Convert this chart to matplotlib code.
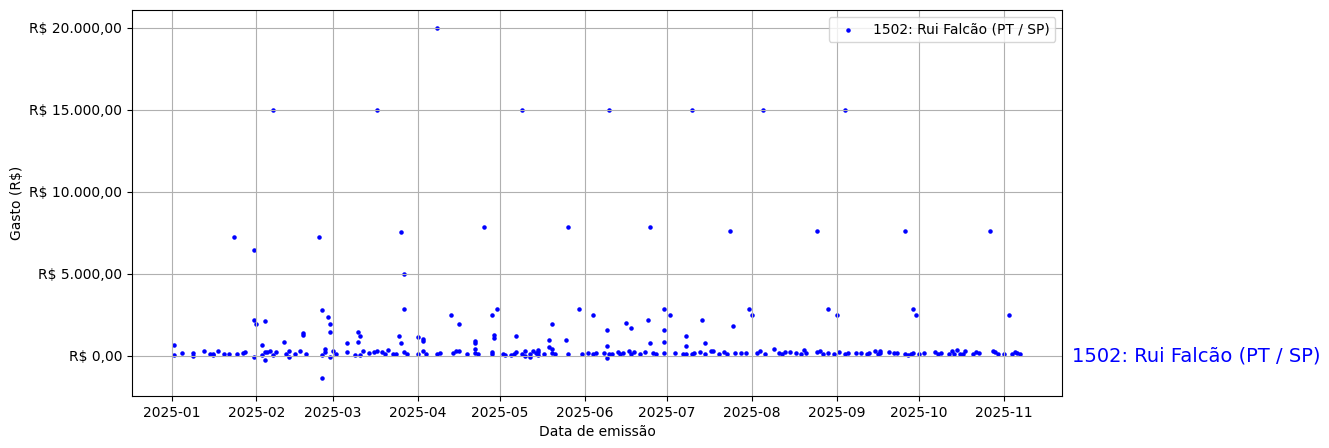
import pandas as pd
import matplotlib
matplotlib.use("Agg")
import matplotlib.pyplot as plt
import matplotlib.dates as mdates
from matplotlib.ticker import FuncFormatter

deputado = "1502: Rui Falcão (PT / SP)"

datas = [
    "2025-01-02", "2025-01-02", "2025-01-05", "2025-01-09", "2025-01-09", "2025-01-13",
    "2025-01-15", "2025-01-16", "2025-01-16", "2025-01-18", "2025-01-20", "2025-01-22",
    "2025-01-24", "2025-01-25", "2025-01-27", "2025-01-28", "2025-01-31", "2025-01-31",
    "2025-02-01", "2025-01-31",
    "2025-02-03", "2025-02-03", "2025-02-04", "2025-02-04", "2025-02-04", "2025-02-05",
    "2025-02-07", "2025-02-06", "2025-02-07", "2025-02-08", "2025-02-11", "2025-02-12",
    "2025-02-13", "2025-02-13", "2025-02-15", "2025-02-17", "2025-02-18", "2025-02-18",
    "2025-02-19", "2025-02-24", "2025-02-25", "2025-02-25", "2025-02-25", "2025-02-26",
    "2025-02-26", "2025-02-27", "2025-02-28", "2025-02-28", "2025-02-28",
    "2025-03-01", "2025-03-02", "2025-03-06", "2025-03-06", "2025-03-09", "2025-03-10",
    "2025-03-10", "2025-03-11", "2025-03-11", "2025-03-12", "2025-03-14", "2025-03-17",
    "2025-03-16", "2025-03-17", "2025-03-19", "2025-03-20", "2025-03-21", "2025-03-23",
    "2025-03-24", "2025-03-25", "2025-03-26", "2025-03-26", "2025-03-27", "2025-03-27",
    "2025-03-27", "2025-03-28",
    "2025-04-01", "2025-04-01", "2025-04-03", "2025-04-03", "2025-04-03", "2025-04-04",
    "2025-04-08", "2025-04-08", "2025-04-09", "2025-04-13", "2025-04-14", "2025-04-15",
    "2025-04-16", "2025-04-16", "2025-04-19", "2025-04-22", "2025-04-22", "2025-04-22",
    "2025-04-22", "2025-04-23", "2025-04-25", "2025-04-28", "2025-04-28", "2025-04-28",
    "2025-04-29", "2025-04-29", "2025-04-30",
    "2025-05-02", "2025-05-03", "2025-05-05", "2025-05-06", "2025-05-07", "2025-05-07",
    "2025-05-09", "2025-05-09", "2025-05-10", "2025-05-10", "2025-05-12", "2025-05-12",
    "2025-05-13", "2025-05-14", "2025-05-15", "2025-05-15", "2025-05-15", "2025-05-17",
    "2025-05-19", "2025-05-19", "2025-05-20", "2025-05-20", "2025-05-20", "2025-05-21",
    "2025-05-25", "2025-05-26", "2025-05-26", "2025-05-30", "2025-05-31",
    "2025-06-02", "2025-06-04", "2025-06-04", "2025-06-05", "2025-06-08", "2025-06-09",
    "2025-06-09", "2025-06-09", "2025-06-10", "2025-06-10", "2025-06-11", "2025-06-13",
    "2025-06-14", "2025-06-15", "2025-06-16", "2025-06-17", "2025-06-18", "2025-06-18",
    "2025-06-19", "2025-06-21", "2025-06-23", "2025-06-24", "2025-06-25", "2025-06-25",
    "2025-06-26", "2025-06-27", "2025-06-30", "2025-06-30", "2025-06-30", "2025-06-30",
    "2025-07-02", "2025-07-04", "2025-07-07", "2025-07-08", "2025-07-08", "2025-07-08",
    "2025-07-10", "2025-07-10", "2025-07-11", "2025-07-13", "2025-07-14", "2025-07-15",
    "2025-07-15", "2025-07-17", "2025-07-18", "2025-07-20", "2025-07-22", "2025-07-23",
    "2025-07-24", "2025-07-25", "2025-07-26", "2025-07-28", "2025-07-30", "2025-07-31",
    "2025-08-01", "2025-08-03", "2025-08-04", "2025-08-05", "2025-08-06", "2025-08-09",
    "2025-08-11", "2025-08-12", "2025-08-13", "2025-08-15", "2025-08-17", "2025-08-19",
    "2025-08-20", "2025-08-21", "2025-08-25", "2025-08-25", "2025-08-26", "2025-08-27",
    "2025-08-29", "2025-08-29", "2025-08-31",
    "2025-09-01", "2025-09-02", "2025-09-04", "2025-09-04", "2025-09-05", "2025-09-08",
    "2025-09-10", "2025-09-12", "2025-09-13", "2025-09-15", "2025-09-16", "2025-09-17",
    "2025-09-17", "2025-09-20", "2025-09-22", "2025-09-23", "2025-09-26", "2025-09-26",
    "2025-09-27", "2025-09-28", "2025-09-29", "2025-09-29", "2025-09-30", "2025-10-01",
    "2025-10-03",
    "2025-10-07", "2025-10-08", "2025-10-09", "2025-10-12", "2025-10-13", "2025-10-14",
    "2025-10-15", "2025-10-16", "2025-10-17", "2025-10-18", "2025-10-21", "2025-10-22",
    "2025-10-23", "2025-10-27", "2025-10-28", "2025-10-29", "2025-10-30", "2025-11-01",
    "2025-11-03", "2025-11-04", "2025-11-05", "2025-11-06", "2025-11-07",
]

gastos = [
    670, 60, 180, 180, 20, 300,
    120, 60, 120, 300, 120, 120,
    7250, 120, 180, 240, 6450, 2200,
    1930, -60,
    670, 60, 2130, 260, -250, 260,
    15000, 300, 60, 240, 850, 120,
    300, -60, 120, 300, 1370, 1300,
    120, 7250, 2800, 60, -1370, 430,
    240, 2380, 1950, 1460, -60,
    300, 120, 790, 240, 60, 1460,
    850, 1220, 60, 300, 180, 15000,
    240, 300, 240, 120, 370, 120,
    120, 1220, 7550, 790, 5000, 2870,
    240, 120,
    1160, 120, 1040, 900, 300, 120,
    20000, 120, 180, 2500, 180, 300,
    1950, 300, 120, 790, 900, 430,
    180, 120, 7850, 2500, 240, 120,
    1280, 1100, 2870,
    120, 60, 60, 120, 1220, 240,
    15000, 120, 300, 0, 120, -60,
    300, 180, 370, 240, 60, 120,
    980, 550, 430, 1950, 180, 120,
    980, 7850, 120, 2870, 120,
    180, 2500, 120, 180, 180, 1590,
    610, -120, 15000, 120, 120, 240,
    120, 180, 2010, 300, 1710, 120,
    240, 120, 240, 2200, 7850, 790,
    180, 120, 2870, 1590, 850, 180,
    2500, 180, 120, 1220, 610, 120,
    15000, 120, 180, 240, 2200, 790,
    120, 300, 300, 120, 240, 120,
    7600, 1830, 180, 180, 180, 2870,
    2500, 180, 300, 15000, 120, 430,
    180, 120, 240, 240, 180, 120,
    370, 180, 7600, 240, 300, 120,
    2870, 180, 120,
    2500, 240, 15000, 120, 180, 180,
    180, 120, 180, 300, 120, 300,
    180, 240, 180, 180, 7600, 120,
    60, 120, 2870, 180, 2500, 120,
    180,
    240, 120, 180, 120, 300, 120,
    370, 120, 120, 300, 120, 240,
    180, 7600, 300, 240, 120, 120,
    2500, 120, 240, 180, 120,
]

df = pd.DataFrame({"data": pd.to_datetime(datas), "gasto": gastos})


def reais(v, pos):
    s = f"{v:,.2f}".replace(",", "X").replace(".", ",").replace("X", ".")
    return "R$ " + s


fig = plt.figure(figsize=(13.29, 4.48), dpi=100)
ax = fig.add_axes([0.0993, 0.1161, 0.700, 0.8616])

ax.scatter(df["data"], df["gasto"], s=5, color="blue", label=deputado)
ax.text(1.0108, 0, deputado, transform=ax.get_yaxis_transform(),
        color="blue", fontsize=14, va="center", ha="left")

ax.set_yticks([0, 5000, 10000, 15000, 20000])
ax.yaxis.set_major_formatter(FuncFormatter(reais))
ax.xaxis.set_major_locator(mdates.MonthLocator())
ax.xaxis.set_major_formatter(mdates.DateFormatter("%Y-%m"))
ax.set_xlabel("Data de emissão")
ax.set_ylabel("Gasto (R$)")
ax.grid(True)
ax.legend(loc="upper right")

fig.savefig("out.png", dpi=100)
